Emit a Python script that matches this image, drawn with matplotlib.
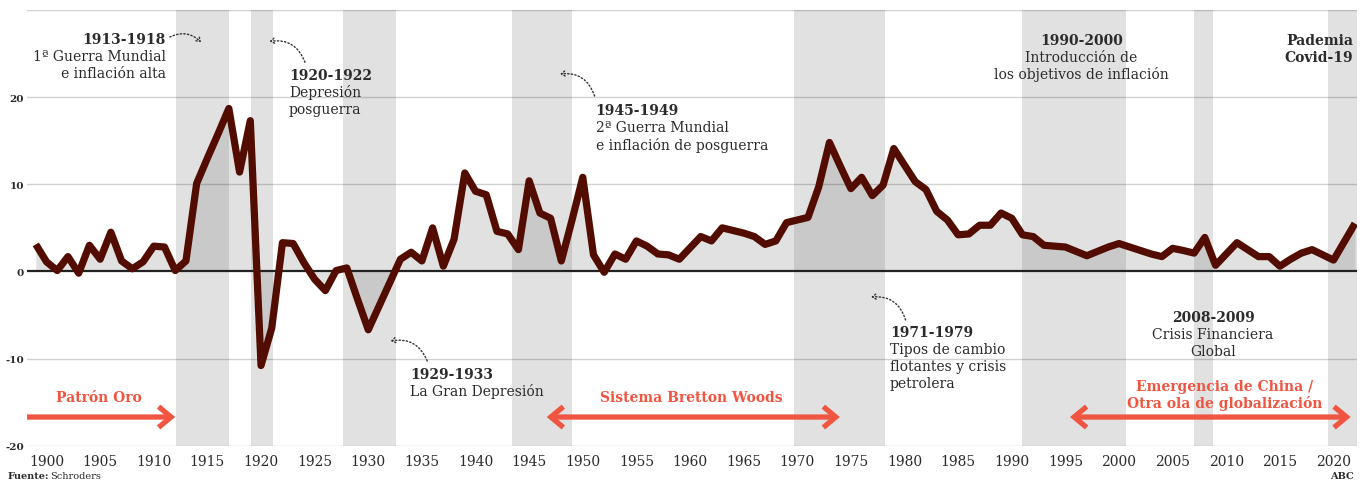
import matplotlib
matplotlib.use("Agg")
import matplotlib.pyplot as plt

plt.rcParams['font.family'] = ['DejaVu Serif']

# inflación anual (%)
years = list(range(1899, 2023))
inflation = [
    3.1, 1.1, 0.1, 1.7, -0.2, 3.0, 1.4, 4.5, 1.2, 0.3,          # 1899-1908
    1.1, 2.9, 2.8, 0.1, 1.2, 10.1, 13.0, 15.8, 18.7, 11.4,      # 1909-1918
    17.3, -10.8, -6.5, 3.3, 3.2, 1.0, -0.9, -2.2, 0.1, 0.4,     # 1919-1928
    -3.2, -6.7, -4.0, -1.3, 1.4, 2.2, 1.2, 5.0, 0.6, 3.7,       # 1929-1938
    11.3, 9.2, 8.8, 4.6, 4.3, 2.5, 10.4, 6.7, 6.1, 1.2,         # 1939-1948
    5.9, 10.8, 1.9, -0.1, 2.0, 1.4, 3.5, 2.9, 2.0, 1.9,         # 1949-1958
    1.4, 2.7, 4.0, 3.5, 5.0, 4.7, 4.4, 4.0, 3.1, 3.5,           # 1959-1968
    5.6, 5.9, 6.2, 9.7, 14.8, 12.1, 9.5, 10.8, 8.7, 9.9,        # 1969-1978
    14.1, 12.2, 10.3, 9.4, 6.9, 5.9, 4.2, 4.3, 5.3, 5.3,        # 1979-1988
    6.7, 6.1, 4.2, 4.0, 3.0, 2.9, 2.8, 2.3, 1.8, 2.3,           # 1989-1998
    2.8, 3.2, 2.8, 2.4, 2.0, 1.7, 2.65, 2.4, 2.1, 3.9,          # 1999-2008
    0.7, 2.0, 3.3, 2.5, 1.7, 1.7, 0.6, 1.4, 2.1, 2.5,           # 2009-2018
    1.9, 1.3, 3.4, 5.5,                                         # 2019-2022
]

# periodos sombreados
span_start = [1912.07, 1919.07, 1927.64, 1943.4, 1969.7, 1990.95, 2007.0, 2019.5]
span_end = [1917.0, 1921.12, 1932.59, 1949.0, 1978.18, 2000.65, 2008.76, 2023.0]

x_ticks = list(range(1900, 2021, 5))
y_ticks = [-20, -10, 0, 10, 20]
grid_levels = [-20, -10, 10, 20, 30]

DARK = '#2b2b2b'
RED = '#ef5540'
SHADE = '#696a6c'

fig = plt.figure(figsize=(13.67, 4.81), dpi=100)
ax = fig.add_axes([27 / 1367, 34.3 / 481, 1330 / 1367, 435.7 / 481])
ax.set_xlim(1898.18, 2022.19)
ax.set_ylim(-20, 30)

for s, e in zip(span_start, span_end):
    ax.axvspan(s, e, color=SHADE, alpha=0.2, lw=0, zorder=1)
ax.fill_between(years, inflation, 0, color=SHADE, alpha=0.2, lw=0, zorder=2)

for g in grid_levels:
    ax.axhline(g, color='black', alpha=0.18, lw=1, zorder=3)
ax.axhline(0, color='#222222', lw=1.6, zorder=4)

ax.plot(years, inflation, color='#520d00', lw=5.2, zorder=5,
        solid_joinstyle='round', solid_capstyle='butt')

ax.set_xticks(x_ticks)
ax.set_xticklabels([str(t) for t in x_ticks], fontsize=10, color=DARK)
ax.set_yticks(y_ticks)
ax.set_yticklabels([str(t) for t in y_ticks], fontsize=7.5, fontweight='bold', color=DARK)
ax.tick_params(axis='x', length=0, pad=6)
ax.tick_params(axis='y', length=0, pad=2)
for sp in ax.spines.values():
    sp.set_visible(False)

STEP = 1.95


def block(x, y, lines, ha='left', color=DARK, bold_all=False):
    for i, t in enumerate(lines):
        w = 'bold' if (i == 0 or bold_all) else 'normal'
        ax.text(x, y - i * STEP, t, ha=ha, va='center', fontsize=10,
                fontweight=w, color=color, zorder=6)


def dotted(start, end, rad):
    ax.annotate('', xy=end, xytext=start, zorder=6,
                arrowprops=dict(arrowstyle='->,head_length=0.25,head_width=0.18',
                                connectionstyle=f'arc3,rad={rad}',
                                color='#333333', lw=1, linestyle=(0, (1, 1.6)),
                                shrinkA=0, shrinkB=0))


block(1911.1, 26.67, ['1913-1918', '1ª Guerra Mundial', 'e inflación alta'], ha='right')
dotted((1911.5, 26.9), (1914.4, 26.3), -0.35)

block(1922.6, 22.54, ['1920-1922', 'Depresión', 'posguerra'])
dotted((1924.1, 24.0), (1920.8, 26.4), 0.4)

block(1933.9, -11.77, ['1929-1933', 'La Gran Depresión'])
dotted((1935.5, -10.28), (1932.1, -7.98), 0.4)

block(1951.2, 18.52, ['1945-1949', '2ª Guerra Mundial', 'e inflación de posguerra'])
dotted((1951.1, 20.13), (1947.9, 22.66), 0.4)

block(1978.65, -6.95, ['1971-1979', 'Tipos de cambio', 'flotantes y crisis', 'petrolera'])
dotted((1980.1, -5.57), (1976.9, -2.94), 0.4)

block(1996.5, 26.56, ['1990-2000', 'Introducción de', 'los objetivos de inflación'], ha='center')
block(2021.8, 26.56, ['Pademia', 'Covid-19'], ha='right', bold_all=True)
block(2008.76, -5.23, ['2008-2009', 'Crisis Financiera', 'Global'], ha='center')

# eras monetarias
block(1904.85, -14.41, ['Patrón Oro'], ha='center', color=RED)
block(1960.16, -14.38, ['Sistema Bretton Woods'], ha='center', color=RED)
block(2009.88, -13.1, ['Emergencia de China /', 'Otra ola de globalización'],
      ha='center', color=RED, bold_all=True)


def red_arrow(x0, x1, style):
    ax.annotate('', xy=(x1, -16.71), xytext=(x0, -16.71), zorder=6,
                arrowprops=dict(arrowstyle=style + ',head_length=0.9,head_width=0.75',
                                mutation_scale=10, color=RED, lw=3.8,
                                shrinkA=0, shrinkB=0,
                                joinstyle='miter', capstyle='butt'))


red_arrow(1898.18, 1912.0, '->')
red_arrow(1946.64, 1973.98, '<->')
red_arrow(1995.43, 2021.6, '<->')

fig.text(8 / 1367, 1 - 477 / 481, 'Fuente:', fontsize=7, fontweight='bold',
         color=DARK, va='center')
fig.text(50 / 1367, 1 - 477 / 481, 'Schroders', fontsize=7, color=DARK, va='center')
fig.text(1354 / 1367, 1 - 477 / 481, 'ABC', fontsize=7, fontweight='bold',
         color=DARK, va='center', ha='right')

fig.savefig('out.png', dpi=100)
